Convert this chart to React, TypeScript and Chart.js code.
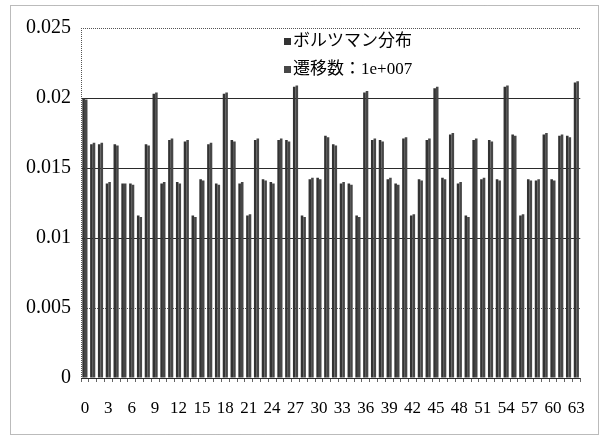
import React, { useEffect, useRef } from "react";
import { Chart, registerables } from "chart.js";

Chart.register(...registerables);

const categories: string[] = Array.from({ length: 64 }, (_, i) => String(i));

const boltzmann: number[] = [
  0.0200, 0.0167, 0.0167, 0.0139, 0.0167, 0.0139, 0.0139, 0.0116,
  0.0167, 0.0203, 0.0139, 0.0170, 0.0140, 0.0169, 0.0116, 0.0142,
  0.0167, 0.0139, 0.0203, 0.0170, 0.0139, 0.0116, 0.0170, 0.0142,
  0.0140, 0.0170, 0.0170, 0.0208, 0.0116, 0.0142, 0.0143, 0.0173,
  0.0167, 0.0139, 0.0139, 0.0116, 0.0204, 0.0170, 0.0170, 0.0142,
  0.0139, 0.0171, 0.0116, 0.0142, 0.0170, 0.0207, 0.0143, 0.0174,
  0.0139, 0.0116, 0.0170, 0.0142, 0.0170, 0.0142, 0.0208, 0.0174,
  0.0116, 0.0142, 0.0141, 0.0174, 0.0142, 0.0173, 0.0173, 0.0211,
];

const transitions: number[] = [
  0.0199, 0.0168, 0.0168, 0.0140, 0.0166, 0.0139, 0.0138, 0.0115,
  0.0166, 0.0204, 0.0140, 0.0171, 0.0139, 0.0170, 0.0115, 0.0141,
  0.0168, 0.0138, 0.0204, 0.0169, 0.0140, 0.0117, 0.0171, 0.0141,
  0.0139, 0.0171, 0.0169, 0.0209, 0.0115, 0.0143, 0.0142, 0.0172,
  0.0166, 0.0140, 0.0138, 0.0115, 0.0205, 0.0171, 0.0169, 0.0143,
  0.0138, 0.0172, 0.0117, 0.0141, 0.0171, 0.0208, 0.0142, 0.0175,
  0.0140, 0.0115, 0.0171, 0.0143, 0.0169, 0.0141, 0.0209, 0.0173,
  0.0117, 0.0141, 0.0142, 0.0175, 0.0141, 0.0174, 0.0172, 0.0212,
];

const yTicks: number[] = [0, 0.005, 0.01, 0.015, 0.02, 0.025];
const dottedTicks: number[] = [0.005, 0.025];
const seriesNames: string[] = ["ボルツマン分布", "遷移数：1e+007"];
const seriesColors: string[] = ["#333333", "#474747"];

const decor = {
  id: "decor",
  beforeDatasetsDraw(chart: any) {
    const ctx = chart.ctx;
    const a = chart.chartArea;
    const y = chart.scales.y;
    ctx.save();
    ctx.lineWidth = 1;
    ctx.setLineDash([1, 1]);
    ctx.strokeStyle = "#555";
    dottedTicks.forEach((v) => {
      const py = Math.round(y.getPixelForValue(v)) + 0.5;
      ctx.beginPath();
      ctx.moveTo(a.left, py);
      ctx.lineTo(a.right, py);
      ctx.stroke();
    });
    ctx.beginPath();
    ctx.moveTo(a.left + 0.5, a.top);
    ctx.lineTo(a.left + 0.5, a.bottom);
    ctx.stroke();
    ctx.restore();
  },
  afterDraw(chart: any) {
    const ctx = chart.ctx;
    ctx.save();
    ctx.strokeStyle = "#777";
    ctx.lineWidth = 1;
    ctx.setLineDash([1, 1]);
    ctx.strokeRect(10.5, 5.5, chart.width - 13, chart.height - 8);
    ctx.setLineDash([]);
    const x0 = 284;
    const ys = [42, 70];
    ctx.font = "17px 'Liberation Serif', 'Noto Sans CJK JP', serif";
    ctx.textBaseline = "middle";
    ctx.textAlign = "left";
    chart.data.datasets.forEach((ds: any, i: number) => {
      ctx.fillStyle = ds.backgroundColor;
      ctx.fillRect(x0, ys[i] - 4, 7, 7);
      ctx.fillStyle = "#000";
      ctx.fillText(ds.label, x0 + 9, ys[i]);
    });
    ctx.restore();
  },
};

export default function App() {
  const ref = useRef<HTMLCanvasElement | null>(null);
  useEffect(() => {
    if (!ref.current) return;
    const chart = new Chart(ref.current, {
      type: "bar",
      data: {
        labels: categories,
        datasets: [
          {
            label: seriesNames[0],
            data: boltzmann,
            backgroundColor: seriesColors[0],
            barPercentage: 1,
            categoryPercentage: 0.66,
          },
          {
            label: seriesNames[1],
            data: transitions,
            backgroundColor: seriesColors[1],
            barPercentage: 1,
            categoryPercentage: 0.66,
          },
        ],
      },
      options: {
        responsive: false,
        animation: false,
        layout: { padding: { left: 0, right: 19, top: 28, bottom: 0 } },
        plugins: {
          legend: { display: false },
          tooltip: { enabled: false },
        },
        scales: {
          x: {
            grid: {
              display: true,
              drawOnChartArea: false,
              drawTicks: true,
              tickLength: 4,
              color: "#666",
              offset: true,
            },
            border: { display: false },
            ticks: {
              autoSkip: false,
              maxRotation: 0,
              minRotation: 0,
              padding: 16,
              color: "#000",
              font: { family: "'Liberation Serif', serif", size: 17 },
              callback: (_v: any, i: number) => (i % 3 === 0 ? categories[i] : ""),
            },
            afterFit: (s: any) => {
              s.height = 59;
            },
          },
          y: {
            min: 0,
            max: 0.025,
            afterBuildTicks: (s: any) => {
              s.ticks = yTicks.map((v) => ({ value: v }));
            },
            grid: {
              drawTicks: false,
              color: (c: any) => {
                const v = c.tick ? c.tick.value : 0;
                if (dottedTicks.includes(v)) return "rgba(0,0,0,0)";
                return "#2a2a2a";
              },
              lineWidth: 1,
            },
            border: { display: false },
            ticks: {
              padding: 10,
              color: "#000",
              font: { family: "'Liberation Serif', serif", size: 20 },
              callback: (v: any) => String(v),
            },
            afterFit: (s: any) => {
              s.width = 81;
            },
          },
        },
      },
      plugins: [decor],
    });
    return () => chart.destroy();
  }, []);
  return (
    <div style={{ position: "fixed", left: 0, top: 0, width: 601, height: 437, background: "#fff" }}>
      <canvas ref={ref} width={601} height={437} style={{ display: "block" }} />
    </div>
  );
}
